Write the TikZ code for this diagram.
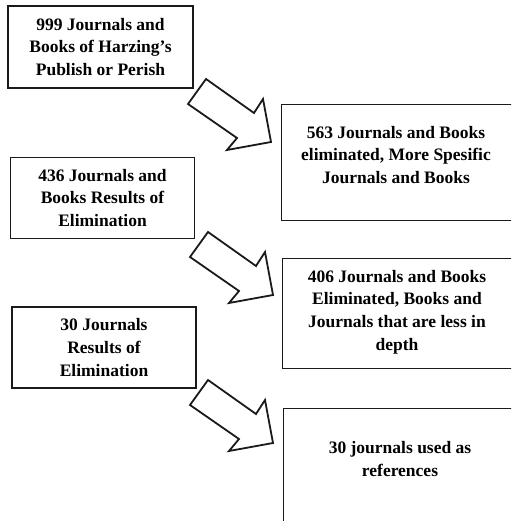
\documentclass[tikz,border=0pt]{standalone}
\usepackage{fontspec}
\setmainfont{Liberation Serif}
\usepackage{tikz}
\usetikzlibrary{arrows.meta,calc}
\definecolor{rand}{HTML}{1A1A1A}
\tikzset{
  box/.style={draw=rand,line width=1.4pt,inner sep=0pt},
  txt/.style={align=center,font=\bfseries\fontsize{17.5}{22.6}\selectfont},
  blk/.style={draw=rand,line width=1.8pt,line join=miter,fill=white},
  blockarrow/.pic={
    \draw[blk] (0,0)--(-18,25)--(31,59)--(21,71)--(65,63)--(57,20)--(48,34)--cycle;
  },
}
\begin{document}
\begin{tikzpicture}[x=1pt,y=-1pt]
  \useasboundingbox (0,0) rectangle (511,521);
  \clip (0,0) rectangle (511,521);
  % left column
  \node[box,txt,minimum width=185pt,minimum height=82pt] (src) at (100.5,47)
    {999 Journals and\\Books of Harzing’s\\Publish or Perish};
  \node[box,txt,minimum width=184pt,minimum height=81pt] (res1) at (102.5,198)
    {436 Journals and\\Books Results of\\Elimination};
  \node[box,txt,minimum width=184pt,minimum height=81pt] (res2) at (104,347.5)
    {30 Journals\\Results of\\Elimination};
  % right column (boxes run off the page)
  \node[box,anchor=north west,minimum width=270pt,minimum height=116pt] (elim1) at (281,104) {};
  \node[txt] (elim1t) at (396,155) {563 Journals and Books\\eliminated, More Spesific\\Journals and Books};
  \node[box,anchor=north west,minimum width=270pt,minimum height=110pt] (elim2) at (282,258) {};
  \node[txt] (elim2t) at (397,312) {406 Journals and Books\\Eliminated, Books and\\Journals that are less in\\depth};
  \node[box,anchor=north west,minimum width=270pt,minimum height=150pt] (final) at (283,408) {};
  \node[txt] (finalt) at (400,459) {30 journals used as\\references};
  % block arrows
  \pic at (206,79) {blockarrow};
  \pic at (208,232) {blockarrow};
  \pic at (208,380) {blockarrow};
\end{tikzpicture}
\end{document}
